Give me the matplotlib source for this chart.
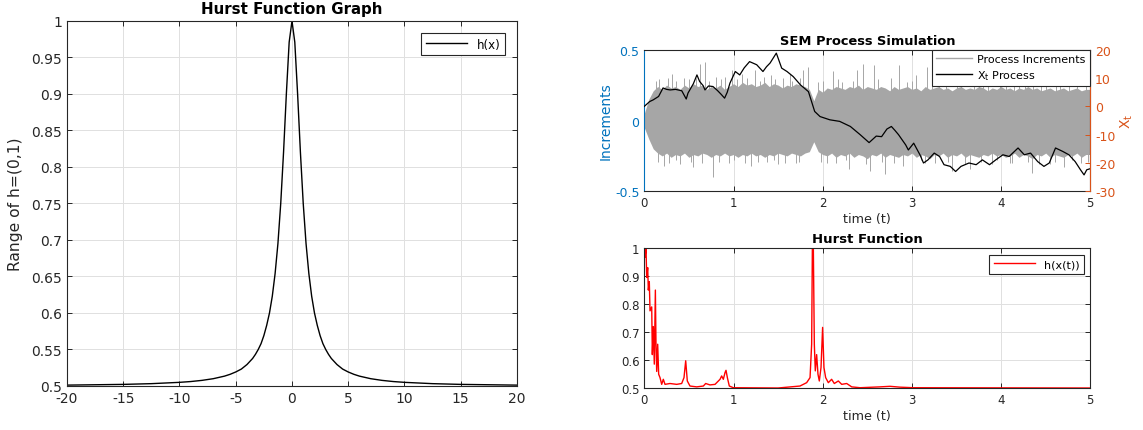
import numpy as np
import matplotlib.pyplot as plt
from matplotlib.ticker import FuncFormatter
from matplotlib.lines import Line2D

plt.rcParams['font.family'] = ['DejaVu Sans']
plt.rcParams['axes.unicode_minus'] = False

AX_COLOR = '#262626'
GRID_COLOR = '#e0e0e0'
BLUE = '#0072BD'
ORANGE = '#D95319'
GRAY = '#a6a6a6'

# Hurst function h(x) sampled over x in [-20, 20]
x_half = [0, 0.25, 0.5, 0.75, 1, 1.25, 1.5, 1.75, 2, 2.25, 2.5, 2.75, 3, 3.25, 3.5, 4,
          4.5, 5, 5.5, 6, 7, 8, 9, 10, 12.5, 15, 20]
h_half = [1.0, 0.971, 0.9, 0.82, 0.75, 0.695, 0.654, 0.623, 0.6, 0.583, 0.569, 0.558,
          0.55, 0.5433, 0.5377, 0.5294, 0.5232, 0.5192, 0.516, 0.5135, 0.51, 0.5077,
          0.5061, 0.505, 0.5032, 0.5022, 0.5012]
x_vals = [-v for v in x_half[:0:-1]] + x_half
h_vals = h_half[:0:-1] + h_half

# SEM process increments: dense band envelope every 0.05 in t
band_upper = [0.05, 0.15, 0.21, 0.24, 0.22, 0.25, 0.23, 0.24, 0.22, 0.25,
              0.23, 0.26, 0.24, 0.25, 0.22, 0.24, 0.23, 0.25, 0.22, 0.24,
              0.26, 0.24, 0.27, 0.25, 0.26, 0.24, 0.25, 0.27, 0.24, 0.26,
              0.25, 0.23, 0.25, 0.24, 0.26, 0.25, 0.24, 0.22, 0.14, 0.22,
              0.20, 0.23, 0.22, 0.24, 0.23, 0.22, 0.24, 0.23, 0.25, 0.22,
              0.24, 0.23, 0.22, 0.24, 0.23, 0.21, 0.24, 0.22, 0.23, 0.24,
              0.22, 0.23, 0.21, 0.24, 0.22, 0.23, 0.24, 0.22, 0.23, 0.21,
              0.23, 0.24, 0.22, 0.23, 0.22, 0.24, 0.23, 0.21, 0.23, 0.22,
              0.24, 0.22, 0.23, 0.21, 0.23, 0.22, 0.24, 0.22, 0.23, 0.21,
              0.22, 0.23, 0.21, 0.22, 0.23, 0.21, 0.22, 0.23, 0.21, 0.22,
              0.22]
band_lower = [-0.05, -0.13, -0.20, -0.23, -0.25, -0.23, -0.26, -0.24, -0.25, -0.23,
              -0.26, -0.24, -0.25, -0.23, -0.24, -0.26, -0.24, -0.25, -0.23, -0.25,
              -0.24, -0.26, -0.24, -0.25, -0.23, -0.25, -0.24, -0.26, -0.24, -0.25,
              -0.23, -0.24, -0.25, -0.23, -0.24, -0.25, -0.23, -0.22, -0.15, -0.22,
              -0.24, -0.25, -0.23, -0.26, -0.24, -0.25, -0.23, -0.26, -0.24, -0.25,
              -0.27, -0.24, -0.25, -0.23, -0.26, -0.24, -0.25, -0.26, -0.24, -0.25,
              -0.23, -0.26, -0.24, -0.25, -0.27, -0.24, -0.25, -0.23, -0.26, -0.24,
              -0.25, -0.23, -0.26, -0.24, -0.25, -0.26, -0.24, -0.25, -0.23, -0.25,
              -0.24, -0.26, -0.25, -0.23, -0.26, -0.24, -0.25, -0.27, -0.24, -0.25,
              -0.23, -0.26, -0.24, -0.25, -0.26, -0.24, -0.25, -0.23, -0.26, -0.24,
              -0.24]

# isolated large increments
spike_t = [0.22, 0.31, 0.40, 0.45, 0.55, 0.62, 0.68, 0.77, 0.80, 0.95, 0.98, 1.10,
           1.20, 1.24, 1.38, 1.42, 1.50, 1.63, 1.70, 1.78, 1.83, 2.05, 2.12, 2.30,
           2.38, 2.45, 2.53, 2.57, 2.70, 2.85, 2.90, 3.05, 3.15, 3.17, 3.30, 3.45,
           3.55, 3.65, 3.80, 3.90, 3.99, 4.10, 4.20, 4.35, 4.36, 4.55, 4.62, 4.70,
           4.85, 4.90,
           0.13, 0.17, 0.26, 0.35, 0.50, 0.58, 0.72, 0.86, 0.90, 1.04, 1.15, 1.30,
           1.34, 1.46, 1.56, 1.66, 1.74, 1.95, 2.00, 2.17, 2.22, 2.34, 2.62, 2.77,
           2.95, 3.00, 3.22, 3.38, 3.50, 3.70, 3.75, 3.85, 4.05, 4.15, 4.27, 4.45,
           4.50, 4.66, 4.76, 4.95,
           0.15, 0.28, 0.36, 0.52, 0.65, 0.84, 1.00, 1.13, 1.27, 1.45, 1.58, 1.73,
           1.98, 2.15, 2.26, 2.48, 2.66, 2.80, 3.10, 3.26, 3.41, 3.60, 3.77, 3.95,
           4.12, 4.30, 4.42, 4.60, 4.80, 4.97]
spike_v = [-0.32, 0.33, -0.31, 0.30, -0.33, 0.40, 0.41, -0.40, 0.31, -0.30, 0.36, 0.33,
           -0.32, 0.36, -0.29, 0.32, -0.31, 0.33, -0.30, 0.36, 0.38, -0.30, 0.35, -0.34,
           0.36, 0.40, -0.36, 0.39, -0.38, 0.39, -0.32, 0.32, -0.30, 0.38, 0.35, -0.36,
           0.31, -0.34, 0.33, -0.31, 0.32, -0.30, 0.30, -0.37, 0.32, -0.31, 0.31, -0.33,
           0.30, -0.30,
           0.28, 0.29, 0.30, 0.28, 0.29, 0.30, 0.28, 0.29, 0.31, 0.29, 0.30, 0.28,
           0.31, 0.29, 0.30, 0.28, 0.30, 0.27, 0.28, 0.29, 0.27, 0.28, 0.29, 0.30,
           0.27, 0.28, 0.29, 0.27, 0.28, 0.27, 0.29, 0.28, 0.27, 0.29, 0.28, 0.27,
           0.29, 0.28, 0.27, 0.28,
           -0.29, -0.30, -0.28, -0.29, -0.30, -0.29, -0.28, -0.30, -0.29, -0.28,
           -0.30, -0.29, -0.29, -0.30, -0.28, -0.31, -0.29, -0.30, -0.28, -0.30,
           -0.29, -0.31, -0.29, -0.28, -0.30, -0.29, -0.31, -0.29, -0.28, -0.29]

# X_t path
xt_t = [0, 0.06, 0.10, 0.16, 0.21, 0.25, 0.29, 0.35, 0.42, 0.47, 0.49, 0.55, 0.59,
        0.62, 0.66, 0.68, 0.72, 0.77, 0.82, 0.86, 0.90, 0.93, 0.96,
        1.02, 1.07, 1.12, 1.18, 1.26, 1.33, 1.37, 1.41, 1.48, 1.54, 1.60, 1.67, 1.75, 1.84,
        1.91, 1.97, 2.08, 2.19, 2.31, 2.42, 2.52, 2.60, 2.66, 2.72, 2.77, 2.81, 2.85,
        2.93, 2.96, 3.02, 3.09, 3.13, 3.18, 3.25, 3.31, 3.36, 3.43, 3.49, 3.55, 3.64,
        3.72, 3.79, 3.87, 3.94, 4.02, 4.09, 4.19, 4.26, 4.33, 4.41, 4.48, 4.54, 4.61,
        4.69, 4.76, 4.83, 4.89, 4.93, 4.96, 5.0]
xt_val = [0, 1.7, 2.3, 3.5, 6.5, 6.0, 5.8, 6.0, 5.5, 2.6, 4.7, 8.0, 11.1,
          8.8, 7.3, 5.8, 7.2, 7.0, 5.6, 4.3, 2.9, 5.0, 8.2,
          12.3, 11.1, 13.6, 15.8, 14.7, 12.3, 14.0, 15.3, 18.8, 13.5, 12.3, 10.5, 7.6, 5.2,
          -1.8, -3.6, -4.75, -5.3, -7.1, -10.0, -12.8, -10.5, -10.7, -8.0, -7.1, -8.5, -10.0,
          -13.6, -15.4, -13.0, -17.1, -20.0, -18.9, -16.5, -17.7, -20.6, -21.2, -23.0, -21.2, -20.0,
          -20.6, -18.9, -20.6, -18.9, -17.1, -17.7, -14.7, -17.1, -16.5, -19.5, -21.2, -20.0, -14.7,
          -15.9, -17.1, -19.5, -22.4, -24.2, -22.4, -22.0]

# h(x(t)) along the path
ht_t = [0, 0.008, 0.019, 0.027, 0.038, 0.045, 0.056, 0.064, 0.083, 0.09,
        0.101, 0.112, 0.124, 0.131, 0.139, 0.15, 0.161, 0.176, 0.195, 0.213,
        0.232, 0.288, 0.363, 0.419, 0.445, 0.464, 0.482, 0.512, 0.587, 0.662,
        0.688, 0.736, 0.793, 0.849, 0.867, 0.886, 0.905, 0.916, 0.931, 0.953,
        0.998, 1.5, 1.745, 1.82, 1.858, 1.876, 1.884, 1.895, 1.906, 1.917,
        1.932, 1.947, 1.962, 1.981, 1.999, 2.014, 2.033, 2.063, 2.1, 2.13,
        2.175, 2.213, 2.269, 2.325, 2.419, 2.64, 2.755, 2.866, 3.016, 5.0]
ht_val = [1.0, 0.967, 1.0, 0.895, 0.93, 0.85, 0.88, 0.776, 0.79, 0.62,
          0.72, 0.586, 0.85, 0.657, 0.56, 0.657, 0.55, 0.538, 0.514, 0.532,
          0.514, 0.517, 0.514, 0.517, 0.538, 0.598, 0.526, 0.508, 0.505, 0.508,
          0.517, 0.512, 0.514, 0.532, 0.544, 0.532, 0.556, 0.564, 0.538, 0.508,
          0.502, 0.501, 0.508, 0.52, 0.538, 0.657, 1.0, 1.0, 0.657, 0.562,
          0.62, 0.55, 0.526, 0.574, 0.717, 0.574, 0.538, 0.52, 0.532, 0.517,
          0.526, 0.514, 0.517, 0.505, 0.502, 0.505, 0.507, 0.504, 0.502, 0.501]

fmt = FuncFormatter(lambda v, p: '%g' % round(v, 4))


def style_axes(ax, fs=9):
    for s in ax.spines.values():
        s.set_color(AX_COLOR)
        s.set_linewidth(0.8)
    ax.tick_params(direction='in', length=3.5, width=0.7, colors=AX_COLOR,
                   labelsize=fs, top=True, right=True)
    ax.grid(True, color=GRID_COLOR, linewidth=0.7)
    ax.set_axisbelow(True)


fig = plt.figure(figsize=(11.43, 4.31), dpi=100)

# left: Hurst function graph
ax1 = fig.add_axes([0.0586, 0.1021, 0.3937, 0.8469])
ax1.plot(x_vals, h_vals, color='black', linewidth=1.0, label='h(x)')
ax1.set_xlim(-20, 20)
ax1.set_ylim(0.5, 1)
ax1.set_xticks(np.arange(-20, 21, 5))
ax1.set_yticks(np.arange(0.5, 1.001, 0.05))
ax1.xaxis.set_major_formatter(fmt)
ax1.yaxis.set_major_formatter(fmt)
style_axes(ax1, fs=10)
ax1.set_title('Hurst Function Graph', fontsize=10.8, fontweight='bold', pad=5.5)
ax1.set_ylabel('Range of h=(0,1)', fontsize=11.2, color=AX_COLOR, labelpad=6)
leg1 = ax1.legend(loc='upper right', fontsize=8.5, handlelength=3.5, fancybox=False,
                  framealpha=1, edgecolor=AX_COLOR, borderaxespad=1.0)
leg1.get_frame().set_linewidth(0.8)

# top right: SEM process simulation
ax2 = fig.add_axes([0.5637, 0.5538, 0.3902, 0.3285])
t_band = np.linspace(0, 5, len(band_upper))
ax2.fill_between(t_band, band_lower, band_upper, color=GRAY, linewidth=0)
ax2.vlines(spike_t, 0, spike_v, color=GRAY, linewidth=0.7)
ax2.set_xlim(0, 5)
ax2.set_ylim(-0.5, 0.5)
ax2.set_yticks([-0.5, 0, 0.5])
ax2.yaxis.set_major_formatter(fmt)
style_axes(ax2, fs=8.5)
ax2.tick_params(axis='y', colors=BLUE, right=False, labelsize=9)
ax2.spines['left'].set_color(BLUE)
ax2.set_ylabel('Increments', fontsize=10, color=BLUE, labelpad=2)
ax2.set_xlabel('time (t)', fontsize=9.2, color=AX_COLOR, labelpad=2)
ax2.set_title('SEM Process Simulation', fontsize=9.4, fontweight='bold', pad=4)

ax2r = ax2.twinx()
ax2r.plot(xt_t, xt_val, color='black', linewidth=0.9)
ax2r.set_ylim(-30, 20)
ax2r.set_yticks(np.arange(-30, 21, 10))
ax2r.tick_params(direction='in', length=3.5, width=0.7, colors=ORANGE, labelsize=9)
for s in ax2r.spines.values():
    s.set_visible(False)
ax2r.spines['right'].set_visible(True)
ax2r.spines['right'].set_color(ORANGE)
ax2r.spines['right'].set_linewidth(0.8)
ax2r.set_ylabel(r'X$_{\mathregular{t}}$', fontsize=10, color=ORANGE, labelpad=2)
handles = [Line2D([], [], color=GRAY, linewidth=1.0),
           Line2D([], [], color='black', linewidth=1.0)]
leg2 = ax2r.legend(handles, ['Process Increments', r'X$_{\mathregular{t}}$ Process'],
                   loc='upper right', fontsize=8, handlelength=3.2, fancybox=False,
                   framealpha=1, edgecolor=AX_COLOR, borderaxespad=0,
                   labelspacing=0.35, handletextpad=0.5)
leg2.get_frame().set_linewidth(0.8)

# bottom right: h along the path
ax3 = fig.add_axes([0.5637, 0.0968, 0.3902, 0.3255])
ax3.plot(ht_t, ht_val, color='red', linewidth=1.0, label='h(x(t))')
ax3.set_xlim(0, 5)
ax3.set_ylim(0.5, 1)
ax3.set_yticks(np.arange(0.5, 1.001, 0.1))
ax3.yaxis.set_major_formatter(fmt)
style_axes(ax3, fs=8.5)
ax3.set_xlabel('time (t)', fontsize=9.2, color=AX_COLOR, labelpad=2)
ax3.set_title('Hurst Function', fontsize=9.5, fontweight='bold', pad=4)
leg3 = ax3.legend(loc='upper right', fontsize=8, handlelength=3.7, fancybox=False,
                  framealpha=1, edgecolor=AX_COLOR, borderaxespad=0.6)
leg3.get_frame().set_linewidth(0.8)

fig.savefig('out.png', dpi=100)
